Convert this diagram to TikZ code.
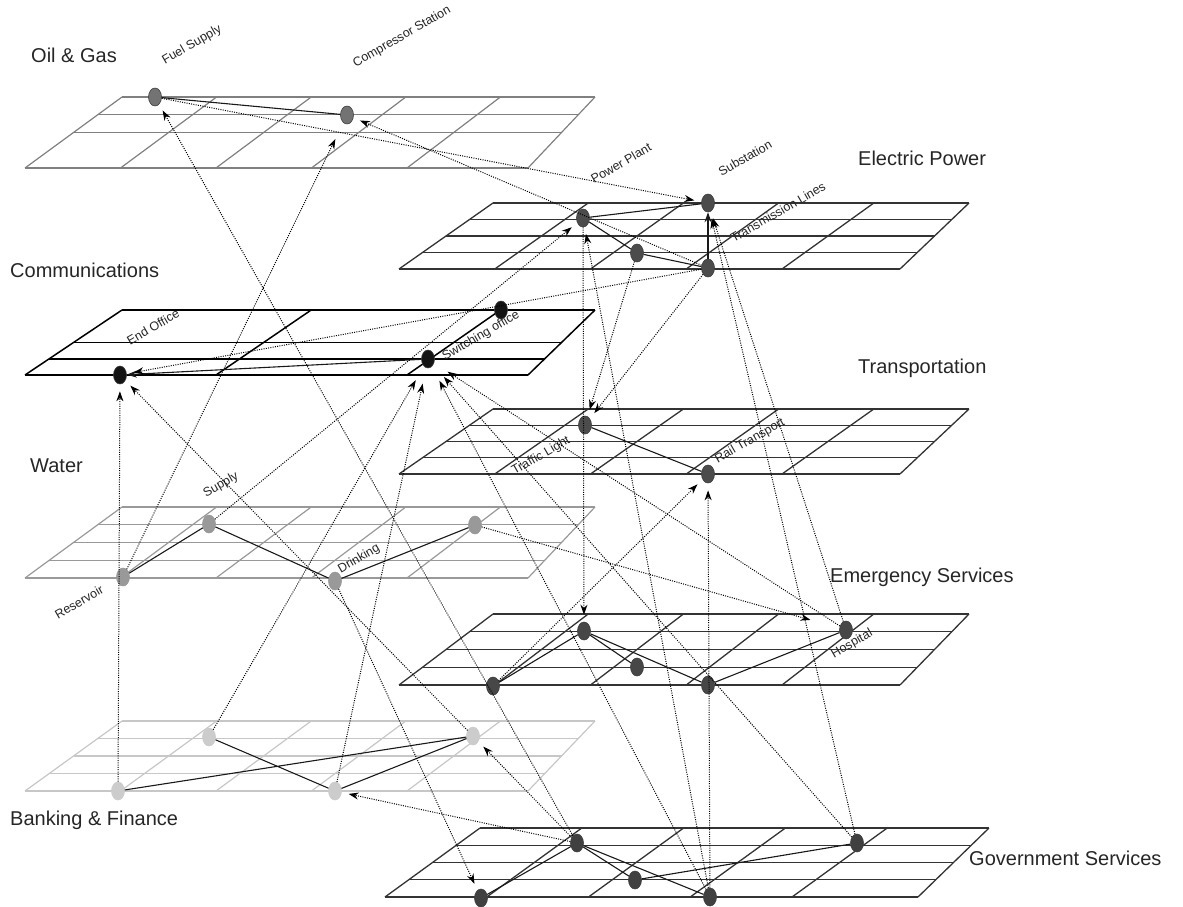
\documentclass[tikz,border=0pt]{standalone}
\usepackage{fontspec}
\setmainfont{Liberation Sans}
\usepackage{tikz}
\usetikzlibrary{arrows.meta,shapes.geometric}

\begin{document}
\begin{tikzpicture}[x=1pt, y=-1pt,
  layer/.style={font=\fontsize{20}{24}\selectfont, anchor=west, text=black!85, inner sep=0pt},
  lab/.style={font=\fontsize{12.5}{14}\selectfont, rotate=30, text=black!85, inner sep=0pt},
  site/.style={ellipse, draw=black!75, line width=0.6pt, minimum width=13pt, minimum height=18pt, inner sep=0pt},
  link/.style={black!90, line width=1.1pt},
  dep/.style={black, line width=1pt, dash pattern=on 1pt off 1.3pt, -{Stealth[length=10pt,width=7pt]}, shorten >=7pt}]
\useasboundingbox (0,0) rectangle (1183,907);

% ---- Oil & Gas ----
\begin{scope}[black!50, line width=1.2pt]
\foreach \f in {0,0.25,0.5,1} \draw ({122-97*\f},{97+71*\f}) -- ({595-67*\f},{97+71*\f});
\foreach \i in {0,...,4} \draw ({122+94.6*\i},97) -- ({25+95.5*\i},168);
\draw (595,97) -- (528,168);
\end{scope}
% ---- Electric Power ----
\begin{scope}[black!80, line width=1.3pt]
\foreach \f in {0,0.25,0.5,0.75,1} \draw ({493-94*\f},{203+66*\f}) -- ({969-69*\f},{203+66*\f});
\foreach \i in {0,...,4} \draw ({493+95.2*\i},203) -- ({399+95.75*\i},269);
\draw (969,203) -- (900,269);
\end{scope}
% ---- Communications ----
\begin{scope}[black, line width=1.5pt]
\foreach \f in {0,0.5,0.75,1} \draw ({122-97*\f},{310+65*\f}) -- ({595-67*\f},{310+65*\f});
\foreach \i in {0,2,4} \draw ({122+94.6*\i},310) -- ({25+95.5*\i},375);
\draw (595,310) -- (528,375);
\end{scope}
% ---- Transportation ----
\begin{scope}[black!80, line width=1.3pt]
\foreach \f in {0,0.25,0.5,0.75,1} \draw ({493-94*\f},{409+65*\f}) -- ({969-69*\f},{409+65*\f});
\foreach \i in {0,...,4} \draw ({493+95.2*\i},409) -- ({399+95.75*\i},474);
\draw (969,409) -- (900,474);
\end{scope}
% ---- Water ----
\begin{scope}[black!40, line width=1.2pt]
\foreach \f in {0,0.25,0.5,0.75,1} \draw ({122-97*\f},{507+71*\f}) -- ({595-67*\f},{507+71*\f});
\foreach \i in {0,...,4} \draw ({122+94.6*\i},507) -- ({25+95.5*\i},578);
\draw (595,507) -- (528,578);
\end{scope}
% ---- Emergency Services ----
\begin{scope}[black!80, line width=1.3pt]
\foreach \f in {0,0.25,0.5,0.75,1} \draw ({493-94*\f},{614+71*\f}) -- ({969-69*\f},{614+71*\f});
\foreach \i in {0,...,4} \draw ({493+95.2*\i},614) -- ({399+95.75*\i},685);
\draw (969,614) -- (900,685);
\end{scope}
% ---- Banking & Finance ----
\begin{scope}[black!22, line width=1.2pt]
\foreach \f in {0,0.25,0.5,0.75,1} \draw ({122-97*\f},{721+70*\f}) -- ({595-67*\f},{721+70*\f});
\foreach \i in {0,...,4} \draw ({122+94.6*\i},721) -- ({25+95.5*\i},791);
\draw (595,721) -- (528,791);
\end{scope}
% ---- Government Services ----
\begin{scope}[black!80, line width=1.3pt]
\foreach \f in {0,0.25,0.5,0.75,1} \draw ({480-95*\f},{828+69*\f}) -- ({989-71*\f},{828+69*\f});
\foreach \i in {0,...,4} \draw ({480+101.8*\i},828) -- ({385+101.75*\i},897);
\draw (989,828) -- (918,897);
\end{scope}

% ---- layer names ----
\node[layer] (tOil) at (31,55) {Oil \& Gas};
\node[layer] (tElec) at (858,158) {Electric Power};
\node[layer] (tComm) at (10,270) {Communications};
\node[layer] (tTrans) at (858,368) {Transportation};
\node[layer] (tWater) at (30,466) {Water};
\node[layer] (tEmerg) at (830,577) {Emergency Services};
\node[layer] (tBank) at (10,820) {Banking \& Finance};
\node[layer] (tGov) at (969,858) {Government Services};

% ---- site names ----
\node[lab] (lFuel) at (192,45) {Fuel Supply};
\node[lab] (lComp) at (402,37) {Compressor Station};
\node[lab] (lPP) at (621,163) {Power Plant};
\node[lab] (lSub) at (745,158) {Substation};
\node[lab] (lTL) at (778,212) {Transmission Lines};
\node[lab] (lEnd) at (153,327) {End Office};
\node[lab] (lSw) at (481,336) {Switching office};
\node[lab] (lTraf) at (541,456) {Traffic Light};
\node[lab] (lRail) at (750,441) {Rail Transport};
\node[lab] (lSup) at (221,485) {Supply};
\node[lab] (lRes) at (79,602) {Reservoir};
\node[lab] (lDrink) at (359,559) {Drinking};
\node[lab] (lHosp) at (852,644) {Hospital};

% ---- sites ----
\node[site, fill=black!55] (fuel) at (155,97) {};
\node[site, fill=black!55] (comp) at (347,115) {};
\node[site, fill=black!70] (pp) at (583,218) {};
\node[site, fill=black!70] (sub) at (708,203) {};
\node[site, fill=black!70] (emid) at (637,253) {};
\node[site, fill=black!70] (trans) at (708,268) {};
\node[site, fill=black!92] (endo) at (120,375) {};
\node[site, fill=black!92] (swo) at (428,359) {};
\node[site, fill=black!92] (ctop) at (501,310) {};
\node[site, fill=black!70] (tl) at (585,425) {};
\node[site, fill=black!70] (rail) at (708,474) {};
\node[site, fill=black!40, draw=black!40] (res) at (123,577) {};
\node[site, fill=black!40, draw=black!40] (sup) at (209,524) {};
\node[site, fill=black!40, draw=black!40] (drink) at (335,581) {};
\node[site, fill=black!40, draw=black!40] (wright) at (475,525) {};
\node[site, fill=black!72] (ea) at (493,686) {};
\node[site, fill=black!72] (eb) at (584,631) {};
\node[site, fill=black!72] (ec) at (637,667) {};
\node[site, fill=black!72] (ed) at (708,685) {};
\node[site, fill=black!72] (hosp) at (846,630) {};
\node[site, fill=black!20, draw=black!20] (ba) at (118,791) {};
\node[site, fill=black!20, draw=black!20] (bb) at (209,737) {};
\node[site, fill=black!20, draw=black!20] (bc) at (335,791) {};
\node[site, fill=black!20, draw=black!20] (bd) at (473,736) {};
\node[site, fill=black!75] (ga) at (481,898) {};
\node[site, fill=black!75] (gb) at (577,843) {};
\node[site, fill=black!75] (gc) at (635,880) {};
\node[site, fill=black!75] (gd) at (710,897) {};
\node[site, fill=black!75] (ge) at (857,843) {};

% ---- links inside a layer ----
\draw[link] (fuel) -- (comp);
\draw[link] (pp) -- (sub);
\draw[link] (pp) -- (emid) -- (trans);
\draw[link, -{Stealth[length=10pt,width=7pt]}] (trans) -- (sub);
\draw[link, -{Stealth[length=10pt,width=7pt]}] (swo) -- (endo);
\draw[link] (tl) -- (rail);
\draw[link] (res) -- (sup) -- (drink) -- (wright);
\draw[link] (ea) -- (eb) -- (ec);
\draw[link] (eb) -- (ed) -- (hosp);
\draw[link] (bb) -- (bc) -- (bd) -- (ba);
\draw[link] (ga) -- (gb) -- (gc) -- (ge);
\draw[link] (gb) -- (gd);

% ---- dependencies between layers ----
\draw[dep] (fuel) -- (sub);
\draw[dep] (trans) -- (comp);
\draw[dep, shorten >=18pt] (res) -- (comp);
\draw[dep] (gb) -- (fuel);
\draw[dep] (trans) -- (endo);
\draw[dep] (ba) -- (endo);
\draw[dep] (bd) -- (endo);
\draw[dep] (sup) -- (pp);
\draw[dep] (pp) -- (eb);
\draw[dep] (emid) -- (tl);
\draw[dep] (trans) -- (tl);
\draw[dep] (gd) -- (pp);
\draw[dep] (ge) -- (sub);
\draw[dep] (hosp) -- (sub);
\draw[dep, shorten >=16pt] (bc) -- (swo);
\draw[dep, shorten >=16pt] (bb) -- (swo);
\draw[dep, shorten >=16pt] (gd) -- (swo);
\draw[dep, shorten >=16pt] (ge) -- (swo);
\draw[dep, shorten >=16pt] (hosp) -- (swo);
\draw[dep] (ea) -- (rail);
\draw[dep] (gd) -- (rail);
\draw[dep, shorten >=30pt] (wright) -- (hosp);
\draw[dep] (drink) -- (ga);
\draw[dep] (gb) -- (bd);
\draw[dep] (gb) -- (bc);
\end{tikzpicture}
\end{document}
